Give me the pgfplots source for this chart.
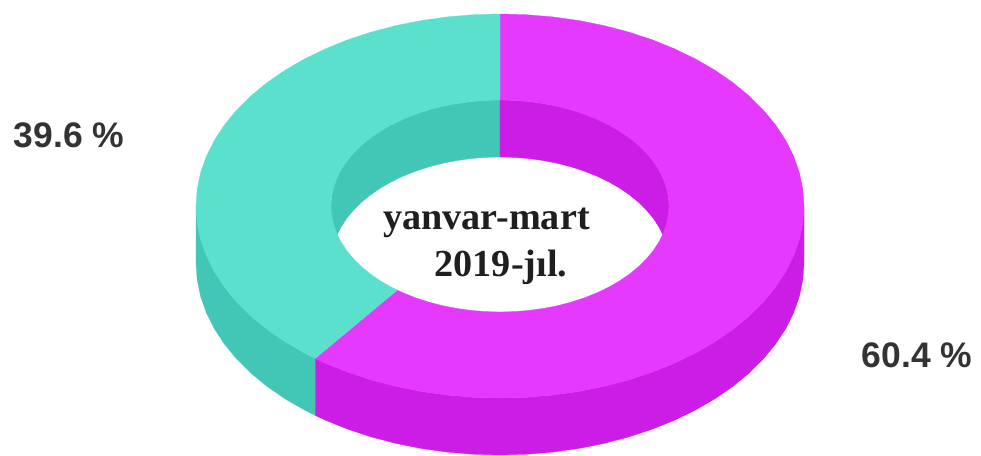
\documentclass[border=0pt]{standalone}
\usepackage{pgfplots}
\pgfplotsset{compat=1.18}
\usepackage{pgfplotstable}
\usepgfplotslibrary{fillbetween}
\usepackage{fontspec}
\setmainfont{Liberation Sans}
\newfontfamily\serifb{Liberation Serif}
\definecolor{mag}{HTML}{E639FF}
\definecolor{magd}{HTML}{CC1DE6}
\definecolor{tea}{HTML}{5BE0CE}
\definecolor{tead}{HTML}{42C6B5}
% unit ellipse, clockwise from the top; the row 217.44 is the 60.4 % boundary
\pgfplotstableread{
ang s c
0 0 1
5 .08716 .99619
10 .17365 .98481
15 .25882 .96593
20 .34202 .93969
25 .42262 .90631
30 .5 .86603
35 .57358 .81915
40 .64279 .76604
45 .70711 .70711
50 .76604 .64279
55 .81915 .57358
60 .86603 .5
65 .90631 .42262
70 .93969 .34202
75 .96593 .25882
80 .98481 .17365
85 .99619 .08716
90 1 0
95 .99619 -.08716
100 .98481 -.17365
105 .96593 -.25882
110 .93969 -.34202
115 .90631 -.42262
120 .86603 -.5
125 .81915 -.57358
130 .76604 -.64279
135 .70711 -.70711
140 .64279 -.76604
145 .57358 -.81915
150 .5 -.86603
155 .42262 -.90631
160 .34202 -.93969
165 .25882 -.96593
170 .17365 -.98481
175 .08716 -.99619
180 0 -1
185 -.08716 -.99619
190 -.17365 -.98481
195 -.25882 -.96593
200 -.34202 -.93969
205 -.42262 -.90631
210 -.5 -.86603
215 -.57358 -.81915
217.44 -.6079 -.7940
220 -.64279 -.76604
225 -.70711 -.70711
230 -.76604 -.64279
235 -.81915 -.57358
240 -.86603 -.5
245 -.90631 -.42262
250 -.93969 -.34202
255 -.96593 -.25882
260 -.98481 -.17365
265 -.99619 -.08716
270 -1 0
275 -.99619 .08716
280 -.98481 .17365
285 -.96593 .25882
290 -.93969 .34202
295 -.90631 .42262
300 -.86603 .5
305 -.81915 .57358
310 -.76604 .64279
315 -.70711 .70711
320 -.64279 .76604
325 -.57358 .81915
330 -.5 .86603
335 -.42262 .90631
340 -.34202 .93969
345 -.25882 .96593
350 -.17365 .98481
355 -.08716 .99619
360 0 1
}\unit
% name, rx, ry, centre y, first row, row after the last
\newcommand\arcpath[6]{%
  \addplot[draw=none,forget plot,name path=#1,skip coords between index={0}{#5},skip coords between index={#6}{100}]
    table[x expr={500+#2*\thisrow{s}},y expr={#4-#3*\thisrow{c}}]{\unit};}
\newcommand\band[3]{%
  \addplot[fill=#3,draw=#3,line width=0.3pt,forget plot] fill between[of=#1 and #2,reverse=true];}
\begin{document}
\begin{tikzpicture}
\begin{axis}[scale only axis,width=981bp,height=456bp,xmin=0,xmax=981,ymin=0,ymax=456,
  y dir=reverse,hide axis,clip=false]
\path (axis cs:0,0) rectangle (axis cs:981,456);
% outer side walls
\arcpath{sm1}{304}{192}{206}{18}{45}\arcpath{sm2}{304}{192}{263}{18}{45}
\band{sm1}{sm2}{magd}
\arcpath{st1}{304}{192}{206}{44}{56}\arcpath{st2}{304}{192}{263}{44}{56}
\band{st1}{st2}{tead}
% inner far walls
\arcpath{it1}{169}{106}{206}{55}{74}\arcpath{it2}{169}{106}{263}{55}{74}
\band{it1}{it2}{tead}
\arcpath{im1}{169}{106}{206}{0}{19}\arcpath{im2}{169}{106}{263}{0}{19}
\band{im1}{im2}{magd}
% top face
\arcpath{tm1}{304}{192}{206}{0}{45}\arcpath{tm2}{169}{106}{206}{0}{45}
\band{tm1}{tm2}{mag}
\arcpath{tt1}{304}{192}{206}{44}{74}\arcpath{tt2}{169}{106}{206}{44}{74}
\band{tt1}{tt2}{tea}
\node[anchor=base,text=black!80,font=\fontsize{35.5bp}{35.5bp}\selectfont\bfseries] at (axis cs:69,147.5) {39.6 \%};
\node[anchor=base,text=black!80,font=\fontsize{35.5bp}{35.5bp}\selectfont\bfseries] at (axis cs:917,368) {60.4 \%};
\node[anchor=base,text=black!88,font=\fontsize{38.2bp}{38.2bp}\selectfont\serifb\bfseries] at (axis cs:486.5,230) {yanvar-mart};
\node[anchor=base,text=black!88,font=\fontsize{38.2bp}{38.2bp}\selectfont\serifb\bfseries] at (axis cs:501,277) {2019-jıl.};
\end{axis}
\end{tikzpicture}
\end{document}
